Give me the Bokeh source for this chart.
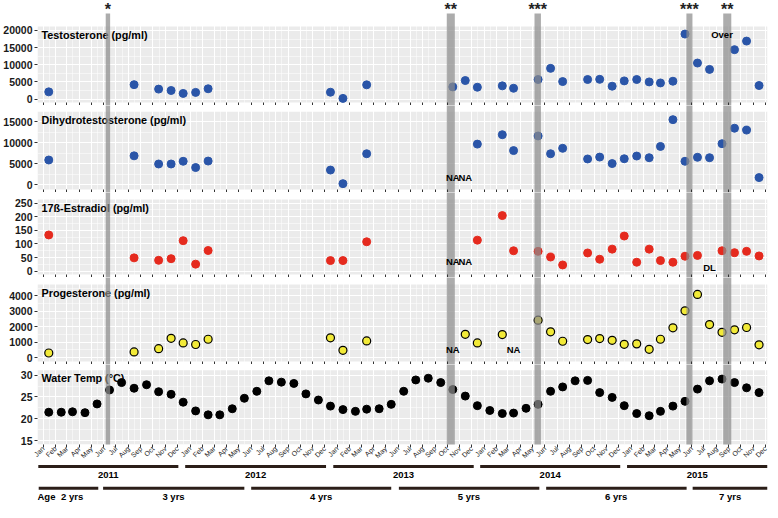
import numpy as np
import pandas as pd
from math import pi
from bokeh.plotting import figure
from bokeh.layouts import column
from bokeh.models import (Range1d, FixedTicker, MonthsTicker, DaysTicker, DatetimeAxis,
                          DatetimeTickFormatter, Grid, BoxAnnotation)
from bokeh.core.properties import value
from bokeh.embed import file_html
from bokeh.resources import INLINE

# ---------------- data ----------------
sample_months = ["2011-01", "2011-08", "2011-10", "2011-11", "2011-12", "2012-01", "2012-02",
                 "2012-12", "2013-01", "2013-03", "2013-10", "2013-11", "2013-12", "2014-02",
                 "2014-03", "2014-05", "2014-06", "2014-07", "2014-09", "2014-10", "2014-11",
                 "2014-12", "2015-01", "2015-02", "2015-03", "2015-04", "2015-05", "2015-06",
                 "2015-07", "2015-08", "2015-09", "2015-10", "2015-11"]
testosterone = [2100, 4200, 2900, 2500, 1650, 1950, 3000, 2000, 200, 4150, 3550, 5400, 3450,
                3850, 3150, 5700, 8950, 5100, 5700, 5750, 3750, 5300, 5700, 5000, 4700, 5200,
                18950, 10500, 8650, None, 14400, 16900, 3950]
dihydrotestosterone = [5900, 6900, 4950, 4950, 5600, 4100, 5650, 3500, 250, 7400, None, None, 9700,
                       11950, 8150, 11650, 7400, 8700, 6150, 6600, 5050, 6200, 6850, 6450, 9150,
                       15550, 5600, 6550, 6450, 9800, 13500, 13050, 1700]
estradiol = [133, 49, 40, 46, 112, 26, 76, 39, 39, 108, None, None, 114, 204, 75, 73, 52, 23, 67,
             44, 81, 129, 33, 81, 39, 33, 55, 58, None, 75, 68, 73, 56]
progesterone = [300, 370, 580, 1250, 950, 850, 1190, 1280, 470, 1080, None, 1510, 950, 1490, None,
                2420, 1670, 1060, 1170, 1230, 1120, 860, 890, 540, 1190, 1930, 3030, 4090, 2140,
                1640, 1800, 1950, 830]

temp_start = "2011-01"
water_temp = [21.5, 21.5, 21.6, 21.4, 23.4, 26.6, 28.3, 27.0, 27.8, 26.2, 25.6, 23.8,
              21.8, 20.9, 20.9, 22.3, 24.7, 26.3, 28.7, 28.4, 28.1, 25.7, 24.3, 22.9,
              22.1, 21.7, 22.2, 22.3, 23.3, 26.3, 28.9, 29.3, 28.3, 26.7, 25.2, 23.0,
              21.9, 21.2, 21.3, 22.4, 23.3, 26.3, 27.3, 28.7, 28.8, 26.0, 24.9, 23.0,
              21.2, 20.7, 21.7, 22.9, 24.0, 26.8, 28.7, 29.1, 28.3, 27.1, 26.0]

# text notes written inside the panels (month, label, height)
testo_note_months, testo_note_text, testo_note_y = ["2015-08"], ["Over"], [18900]
dht_note_months, dht_note_text, dht_note_y = ["2013-10", "2013-11"], ["NA", "NA"], [1700, 1700]
e2_note_months, e2_note_text, e2_note_y = ["2013-10", "2013-11", "2015-07"], ["NA", "NA", "DL"], [36, 36, 14]
prog_note_months, prog_note_text, prog_note_y = ["2013-10", "2014-03"], ["NA", "NA"], [520, 520]

# highlighted events
event_dates = ["2011-06-11", "2013-10-10", "2014-05-14", "2015-05-26", "2015-08-28"]
event_days = [11, 20, 16, 15, 20]
event_marks = ["*", "**", "***", "***", "**"]

# year and age rows
years = ["2011", "2012", "2013", "2014", "2015"]
year_start = ["2010-12-20", "2011-12-20", "2012-12-22", "2013-12-22", "2014-12-22"]
year_end = ["2011-12-03", "2012-12-04", "2013-12-06", "2014-12-05", "2015-12-06"]
ages = ["2 yrs", "3 yrs", "4 yrs", "5 yrs", "6 yrs", "7 yrs"]
age_start = ["2010-12-21", "2011-05-30", "2012-06-01", "2013-06-03", "2014-06-04", "2015-06-03"]
age_end = ["2011-05-18", "2012-05-15", "2013-05-15", "2014-05-18", "2015-05-19", "2015-12-06"]
age_label_at = ["2011-03-14", "2011-11-21", "2012-11-22", "2013-11-24", "2014-11-25", "2015-09-04"]

# ---------------- styling ----------------
FONT = "Liberation Sans"
BLUE = "#2A55A8"
RED = "#E52A1E"
YELLOW = "#F2EA38"
PANEL = "#EBEBEB"
EVENT = "#8C8C8C"
RULE = "#2B1E18"
W, LEFT, RIGHT = 770, 35, 3
STRIP = 3

mid = pd.Timedelta(days=14)
sample_dates = pd.to_datetime(sample_months) + mid
temp_dates = pd.date_range(temp_start, periods=len(water_temp), freq="MS") + mid
ev_c = pd.to_datetime(event_dates)
ev_w = pd.to_timedelta(event_days, unit="D")
ev_left = ev_c - ev_w / 2
ev_right = ev_c + ev_w / 2

x_range = Range1d(pd.Timestamp("2010-12-18"), pd.Timestamp("2015-12-06"))


def month_axis(labels):
    ax = DatetimeAxis(ticker=MonthsTicker(months=list(range(12))),
                      formatter=DatetimeTickFormatter(months="%b", days="%b", years="%b"),
                      axis_line_color=None, minor_tick_line_color=None,
                      major_tick_line_color="#333333")
    if not labels:
        ax.major_tick_in, ax.major_tick_out = STRIP, 0
        ax.major_label_text_font_size = "0px"
        ax.major_label_text_color = None
        ax.major_label_standoff = 0
    else:
        ax.major_tick_in, ax.major_tick_out = 0, 3
        ax.major_label_orientation = pi / 4
        ax.major_label_text_font = FONT
        ax.major_label_text_font_size = "7px"
        ax.major_label_text_color = "#222222"
        ax.major_label_standoff = 0
    return ax


def make_panel(title, lo, hi, ticks, panel_px, above_px, last=False, axis_px=0, bar_gap=None):
    upp = (hi - lo) / panel_px
    top = hi + above_px * upp
    bottom = lo if last else lo - STRIP * upp
    frame_px = panel_px + above_px + (0 if last else STRIP)
    p = figure(width=W, height=frame_px + axis_px, x_range=x_range,
               y_range=Range1d(bottom, top), x_axis_type="datetime", x_axis_location=None,
               toolbar_location=None, output_backend="svg",
               min_border_left=LEFT, min_border_right=RIGHT, min_border_top=0,
               min_border_bottom=axis_px)
    p.center = [r for r in p.center if not isinstance(r, Grid)]
    p.outline_line_color = None
    p.background_fill_color = "white"
    p.border_fill_color = "white"
    p.add_layout(BoxAnnotation(bottom=lo, top=hi, fill_color=PANEL, fill_alpha=1.0,
                               line_color=None, level="image"))
    step = ticks[1] - ticks[0]
    yt = FixedTicker(ticks=ticks, minor_ticks=[t + step / 2 for t in ticks])
    ax = p.yaxis[0]
    ax.ticker = yt
    ax.axis_line_color = None
    ax.major_tick_in, ax.major_tick_out = 0, 3
    ax.major_tick_line_color = "#333333"
    ax.minor_tick_line_color = None
    ax.major_label_text_font = FONT
    ax.major_label_text_font_style = "bold"
    ax.major_label_text_font_size = "10.5px"
    ax.major_label_text_color = "#1A1A1A"
    ax.major_label_standoff = 1
    p.add_layout(Grid(dimension=1, ticker=yt, grid_line_color="white", grid_line_width=1,
                      minor_grid_line_color="white", minor_grid_line_width=0.5))
    p.add_layout(Grid(dimension=0, ticker=MonthsTicker(months=list(range(12))),
                      grid_line_color="white", grid_line_width=1))
    p.add_layout(Grid(dimension=0, ticker=DaysTicker(days=[16]),
                      grid_line_color="white", grid_line_width=0.5))
    p.add_layout(month_axis(last), "below")
    p.text(x=[x_range.start], y=[hi], text=[title], text_font=value(FONT),
           text_font_style="bold", text_font_size="10.8px", text_baseline="top",
           text_align="left", x_offset=4, y_offset=2, text_color="black")
    bar_top = top + 50 * upp if bar_gap is None else hi + bar_gap * upp
    return p, upp, top, bar_top


def add_events(p, lo, upp, bar_top):
    p.quad(left=ev_left, right=ev_right, bottom=lo - 200 * upp, top=bar_top,
           fill_color=EVENT, fill_alpha=0.72, line_color=None)


def add_notes(p, months, texts, ys):
    p.text(x=pd.to_datetime(months) + mid, y=ys, text=texts, text_font=value(FONT),
           text_font_style="bold", text_font_size="9.5px", text_align="center",
           text_baseline="middle", text_color="black")


# --- Testosterone ---
lo1, hi1 = -1000, 21150
f1, u1, t1, b1 = make_panel("Testosterone (pg/ml)", lo1, hi1, [0, 5000, 10000, 15000, 20000],
                            76, 26, bar_gap=13)
f1.scatter(sample_dates, np.array(testosterone, dtype=float), size=8,
           fill_color=BLUE, line_color=BLUE)
add_events(f1, lo1, u1, b1)
add_notes(f1, testo_note_months, testo_note_text, testo_note_y)
f1.text(x=ev_c, y=[t1] * len(ev_c), text=event_marks, text_font=value(FONT),
        text_font_style="bold", text_font_size="16px", text_align="center",
        text_baseline="top", y_offset=0, text_color="#222222")

# --- DHT ---
lo2, hi2 = -1150, 17500
f2, u2, t2, b2 = make_panel("Dihydrotestosterone (pg/ml)", lo2, hi2, [0, 5000, 10000, 15000],
                            78, 6)
f2.scatter(sample_dates, np.array(dihydrotestosterone, dtype=float), size=8,
           fill_color=BLUE, line_color=BLUE)
add_events(f2, lo2, u2, b2)
add_notes(f2, dht_note_months, dht_note_text, dht_note_y)

# --- Estradiol ---
lo3, hi3 = -12, 263
f3, u3, t3, b3 = make_panel("17\u00df-Estradiol (pg/ml)", lo3, hi3, [0, 50, 100, 150, 200, 250],
                            75, 7)
f3.scatter(sample_dates, np.array(estradiol, dtype=float), size=8,
           fill_color=RED, line_color=RED)
add_events(f3, lo3, u3, b3)
add_notes(f3, e2_note_months, e2_note_text, e2_note_y)

# --- Progesterone ---
lo4, hi4 = -250, 4730
f4, u4, t4, b4 = make_panel("Progesterone (pg/ml)", lo4, hi4, [0, 1000, 2000, 3000, 4000],
                            77, 7)
f4.scatter(sample_dates, np.array(progesterone, dtype=float), size=8,
           fill_color=YELLOW, line_color="black", line_width=1.2)
add_events(f4, lo4, u4, b4)
add_notes(f4, prog_note_months, prog_note_text, prog_note_y)

# --- Water temperature ---
lo5, hi5 = 14.1, 31.1
f5, u5, t5, b5 = make_panel("Water Temp (\u00b0C)", lo5, hi5, [15, 20, 25, 30],
                            76, 6, last=True, axis_px=18)
f5.scatter(temp_dates, water_temp, size=8, fill_color="black", line_color="black")
add_events(f5, lo5, u5, b5)

# --- Year / age rows ---
H6 = 38
f6 = figure(width=W, height=H6, x_range=x_range, y_range=Range1d(0, H6),
            x_axis_type="datetime", x_axis_location=None, y_axis_location=None,
            toolbar_location=None, output_backend="svg",
            min_border_left=LEFT, min_border_right=RIGHT, min_border_top=0, min_border_bottom=0)
f6.center = [r for r in f6.center if not isinstance(r, Grid)]
f6.outline_line_color = None
f6.background_fill_color = "white"
f6.border_fill_color = "white"
ys_, ye_ = pd.to_datetime(year_start), pd.to_datetime(year_end)
f6.segment(x0=ys_, x1=ye_, y0=[H6 - 2] * len(years), y1=[H6 - 2] * len(years),
           line_width=3, line_color=RULE)
f6.text(x=ys_ + (ye_ - ys_) / 2, y=[H6 - 10.3] * len(years), text=years, text_font=value(FONT),
        text_font_style="bold", text_font_size="9.5px", text_align="center",
        text_baseline="middle", text_color="black")
as_, ae_ = pd.to_datetime(age_start), pd.to_datetime(age_end)
f6.segment(x0=as_, x1=ae_, y0=[14.3] * len(ages), y1=[14.3] * len(ages),
           line_width=3, line_color=RULE)
f6.text(x=pd.to_datetime(age_label_at), y=[6.3] * len(ages), text=ages, text_font=value(FONT),
        text_font_style="bold", text_font_size="9.5px", text_align="center",
        text_baseline="middle", text_color="black")
f6.text(x=[x_range.start], y=[6.3], text=["Age"], text_font=value(FONT),
        text_font_style="bold", text_font_size="9.5px", text_align="left",
        text_baseline="middle", text_color="black")

layout = column(f1, f2, f3, f4, f5, f6, spacing=0)
open("out.html", "w").write(file_html(layout, INLINE))
